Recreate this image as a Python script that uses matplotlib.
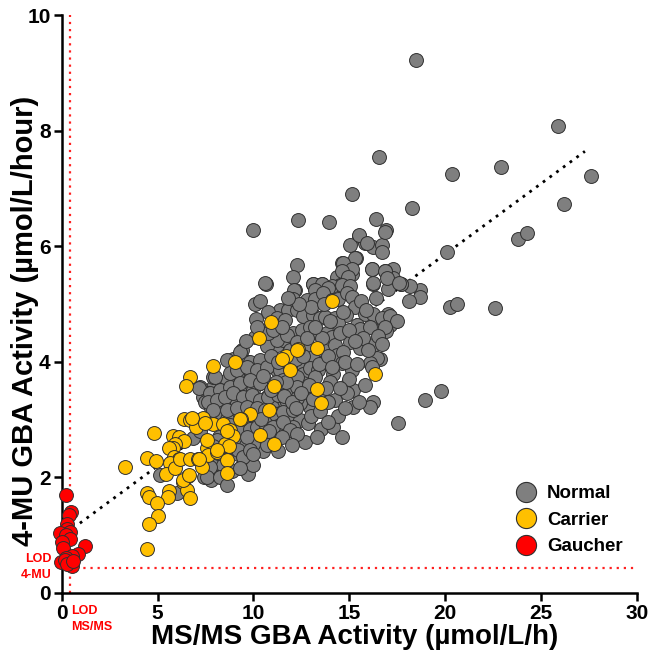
import matplotlib
matplotlib.use("Agg")
import matplotlib.pyplot as plt
from matplotlib.lines import Line2D

plt.rcParams['font.family'] = ['Liberation Sans', 'DejaVu Sans']
plt.rcParams['font.weight'] = 'bold'

# ---------------- data ----------------
normal_x = [
    18.5, 25.9, 16.57, 20.36, 22.9, 27.6, 15.14, 18.3, 26.2, 16.4, 16.9, 23.8, 24.26, 20.1,
    20.26, 20.6, 22.6, 18.95, 19.8, 17.56,
    18.7, 18.7, 18.1, 18.17, 17.7, 17.3, 16.86, 17.27, 17.04, 17.04, 17.44, 16.78, 17.13, 16.9, 16.6,
    9.96, 12.34, 13.93, 15.52, 15.04, 15.82, 16.26, 16.72, 16.72, 15.35, 12.26, 14.64, 15.04, 16.2,
    12.05, 14.35, 15.13, 10.66, 13.12, 13.6, 16.26, 17.7, 14.52, 14.95, 12.17, 13.3, 14.08,
    15.53, 15.91, 16.87, 15.3, 14.66, 15.13, 14.6, 16.17, 16.87, 10.6, 14.95, 16.26, 16.95, 17.6,
    12.12, 13.13, 13.56, 13.21, 13.91, 14.6, 15.04, 10.08, 10.34, 11.39, 10.78, 11.82, 12.26, 12.05,
    12.78, 13.21, 13.65, 14.08, 14.43, 14.87, 15.13, 15.3, 14.83, 15.82, 16.26, 16.69, 17.13, 17.47,
    16.87, 10.14, 11.21, 11.65, 12.6, 13.13, 13.47, 13.73, 14.26, 14.43, 15.39, 15.56, 16.08,
    10.08, 10.69, 11.39, 11.74, 12.08, 12.52, 12.95, 13.3, 13.82, 14.08, 15.04, 15.56, 16.26, 16.43,
    16.08, 9.39, 8.95, 9.74, 10.78, 11.21, 11.56, 11.91, 12.43, 12.87, 13.13, 13.65, 14.26, 14.34,
    14.69, 14.6, 15.13, 14.17, 13.73, 13.99, 14.95, 15.21, 14.26, 15.21, 16.26, 16.08,
    9.82, 10.17, 10.52, 11.21, 11.56, 12.08, 12.34, 12.6, 12.95, 13.39, 13.21, 12.6, 12.08, 11.74,
    10.34, 9.65, 9.13, 8.61, 8.26, 7.91, 9.04, 9.48, 9.99, 10.69, 11.39, 11.91, 12.43, 12.87, 13.3,
    13.65, 12.95, 12.43, 11.91, 11.39, 10.95, 10.52, 9.99, 9.48, 8.95, 8.43, 7.74, 7.39,
    11.39, 11.91, 12.43, 12.08, 11.65, 11.13, 10.6, 10.08, 9.56, 9.13, 9.65, 10.17, 10.69, 11.21,
    13.51, 12.87, 14.17, 14.6,
    9.3, 8.26, 7.74, 7.56, 5.13, 6.0, 6.87, 7.21, 7.91, 7.22, 7.65,
    7.5, 7.8, 8.0, 8.3, 8.6, 8.8, 9.0, 9.3, 9.6, 8.2, 8.5, 8.8, 9.2, 9.5, 9.9, 10.2, 10.5, 7.9, 8.1,
    8.4, 8.9, 9.7, 10.0, 7.4, 7.8, 8.3,
    9.3, 8.61, 9.82, 10.34, 10.69, 11.21, 10.78, 11.74, 12.26, 7.99, 7.18, 8.78, 9.13, 9.65, 10.17,
    10.69, 11.39, 11.91, 12.26, 7.74, 8.26, 8.78, 9.3, 9.82, 10.34, 11.56, 11.91, 12.26, 7.65, 8.08,
    8.52, 8.95, 9.47, 9.91, 10.34, 10.78, 11.3, 11.74, 12.26, 7.91, 8.61, 9.13, 9.65, 10.17, 10.6,
    11.04, 11.56, 12.08, 9.3, 9.82, 10.17, 10.6, 11.04, 11.56, 11.91, 10.0, 9.65, 8.08, 7.91, 8.17,
    9.21, 9.47, 9.82, 7.74, 7.56, 8.26, 9.3, 8.61,
    10.9, 11.3, 11.7, 12.2, 12.6, 12.9, 13.4, 13.6, 13.9, 14.1, 14.5, 14.8, 15.0, 15.4, 15.7, 16.0,
    16.5, 10.5, 10.9, 11.2, 11.6, 12.0, 12.5, 13.0, 13.5, 13.9, 14.4, 14.8, 12.7, 13.3, 13.9, 10.4,
    10.8, 11.5, 12.3, 12.0, 11.3, 10.7, 10.0, 9.6, 10.2, 11.0, 11.5, 12.8, 13.2, 14.0, 14.7, 13.0,
    13.7, 12.4, 11.8, 15.6, 15.9, 16.4, 15.0, 15.3, 16.7, 16.2, 15.8, 15.5, 14.9, 14.5, 13.8, 13.1,
    12.2,
]
normal_y = [
    9.22, 8.08, 7.54, 7.25, 7.36, 7.22, 6.9, 6.66, 6.72, 6.46, 6.27, 6.12, 6.22, 5.9,
    4.94, 4.99, 4.92, 3.33, 3.49, 2.93,
    5.23, 5.12, 5.05, 5.31, 5.35, 5.61, 5.56, 5.44, 5.26, 4.83, 4.71, 4.7, 4.63, 4.52, 4.04,
    6.28, 6.45, 6.42, 6.17, 6.02, 6.06, 5.99, 6.02, 5.9, 5.8, 5.67, 5.7, 5.6, 5.61,
    5.47, 5.47, 5.51, 5.35, 5.34, 5.34, 5.35, 5.34, 5.32, 5.3, 5.24, 5.24, 5.3,
    6.19, 6.06, 6.25, 5.8, 5.7, 5.6, 5.56, 5.61, 5.56, 5.36, 5.47, 5.36, 5.44, 5.36,
    5.24, 5.35, 5.35, 5.24, 5.27, 5.32, 5.3, 5.0, 5.04, 4.89, 4.86, 4.89, 4.9, 5.09,
    5.06, 5.09, 5.18, 5.06, 5.09, 5.18, 5.12, 4.94, 4.81, 4.83, 4.83, 4.75, 4.78, 4.71,
    4.6, 4.73, 4.75, 4.72, 4.79, 4.81, 4.75, 4.77, 4.75, 4.66, 4.63, 4.57, 4.6,
    4.43, 4.55, 4.55, 4.43, 4.49, 4.55, 4.6, 4.49, 4.49, 4.43, 4.34, 4.23, 4.29, 4.06,
    3.97, 4.2, 4.05, 3.99, 4.26, 4.29, 4.37, 4.2, 4.29, 4.26, 4.08, 4.2, 4.29, 4.11,
    4.17, 3.97, 3.85, 3.79, 3.97, 3.65, 3.62, 3.51, 3.33, 3.22, 3.3, 3.22,
    3.85, 3.74, 3.91, 3.85, 3.74, 3.85, 3.97, 3.79, 3.88, 3.85, 3.74, 3.62, 3.62, 3.56,
    3.62, 3.65, 3.79, 3.68, 3.51, 3.56, 3.45, 3.39, 3.51, 3.39, 3.45, 3.42, 3.51, 3.39, 3.51,
    3.33, 3.22, 3.28, 3.25, 3.28, 3.22, 3.28, 3.28, 3.22, 3.25, 3.28, 3.33, 3.39,
    3.1, 3.05, 2.99, 2.87, 2.81, 2.87, 2.93, 2.99, 2.99, 3.05, 2.81, 2.78, 2.7, 2.76,
    2.84, 2.93, 2.87, 2.69,
    2.15, 2.01, 2.06, 2.24, 2.03, 1.72, 2.67, 2.8, 3.74, 3.56, 3.45,
    3.3, 3.2, 3.0, 3.1, 3.0, 2.9, 2.75, 2.65, 2.55, 2.7, 2.6, 2.45, 2.4, 2.3, 2.45, 2.55, 2.45, 2.55, 2.35,
    2.2, 2.1, 2.05, 2.2, 2.0, 1.95, 2.0,
    4.17, 4.03, 4.0, 4.03, 4.26, 4.37, 4.49, 4.46, 4.34, 3.74, 3.55, 3.8, 3.85, 3.91, 3.85,
    3.91, 3.85, 3.91, 3.74, 3.45, 3.51, 3.56, 3.62, 3.68, 3.62, 3.68, 3.51, 3.56, 3.3, 3.33,
    3.39, 3.45, 3.39, 3.42, 3.33, 3.39, 3.42, 3.3, 3.36, 3.16, 3.16, 3.19, 3.22, 3.19, 3.16,
    3.1, 3.13, 3.16, 2.81, 2.84, 2.87, 2.93, 2.87, 2.96, 2.81, 2.58, 2.7, 2.64, 2.53, 2.41,
    2.47, 2.35, 2.47, 2.18, 2.0, 2.0, 2.15, 1.86,
    4.1, 4.0, 3.65, 4.05, 4.1, 3.6, 3.95, 4.4, 4.1, 3.9, 4.5, 4.0, 3.7, 3.95, 4.4, 4.2,
    4.45, 3.75, 3.5, 3.65, 3.4, 3.3, 3.45, 3.05, 3.15, 3.3, 3.05, 3.2, 2.6, 2.7, 2.95, 3.0,
    2.8, 2.7, 2.75, 2.55, 2.45, 2.55, 2.4, 4.35, 4.6, 4.55, 4.6, 4.4, 4.6, 4.7, 4.85, 4.95,
    5.0, 5.0, 5.1, 5.05, 4.9, 5.1, 4.55, 4.35, 4.3, 3.9, 3.6, 3.3, 3.45, 3.55, 3.55, 3.35,
    3.2,
]

carrier_x = [
    10.9, 10.31, 11.7, 11.48, 12.34, 13.34, 16.34, 11.08, 13.3, 13.51, 14.1, 11.91, 7.87, 9.04,
    9.82, 9.34, 10.83, 10.34, 11.08,
    6.69, 6.49, 6.4, 6.69, 7.04, 7.39, 7.01, 7.91, 8.43, 8.78, 8.92, 4.82, 5.82, 6.14, 6.38,
    5.91, 5.82, 5.6, 5.86, 6.14, 4.43, 4.92, 5.65, 5.44, 5.91, 6.17, 6.69, 7.13, 7.56, 7.65,
    8.09, 8.52, 8.75, 8.61, 8.64, 7.3, 3.3, 6.35, 6.61, 6.52, 6.69, 5.62, 5.56, 4.43, 4.57,
    4.95, 5.04, 4.57, 4.47, 12.26, 9.3, 6.78, 7.48, 8.64, 7.56, 8.08, 6.35, 6.66, 7.18,
]
carrier_y = [
    4.69, 4.4, 4.09, 4.04, 4.21, 4.23, 3.78, 3.58, 3.52, 3.29, 5.05, 3.85, 3.92, 4.0,
    3.09, 3.0, 3.16, 2.72, 2.58,
    3.74, 3.58, 3.0, 2.99, 2.99, 3.02, 2.87, 2.91, 2.91, 2.81, 2.71, 2.77, 2.71, 2.7, 2.63,
    2.58, 2.5, 2.51, 2.35, 2.32, 2.33, 2.27, 2.24, 2.06, 2.15, 2.32, 2.31, 2.32, 2.5, 2.38,
    2.44, 2.58, 2.54, 2.29, 2.07, 2.18, 2.17, 1.92, 2.02, 1.77, 1.63, 1.75, 1.66, 1.72, 1.66,
    1.55, 1.32, 1.19, 0.76, 4.2, 3.0, 3.03, 2.93, 2.8, 2.64, 2.47, 1.95, 2.03, 2.32,
]

gaucher_x = [0.22, 0.47, 0.38, 0.26, 0.3, -0.08, 0.43, 0.2, 0.43, 0.0, 1.2, 0.08, 0.86, 0.52,
             0.22, -0.06, 0.17, 0.52, 0.3, 0.6]
gaucher_y = [1.68, 1.40, 1.35, 1.18, 1.1, 1.03, 1.05, 0.99, 0.92, 0.88, 0.8, 0.77, 0.67, 0.63,
             0.59, 0.53, 0.56, 0.46, 0.5, 0.55]

fit_x = [0.95, 27.3]
fit_y = [1.2, 7.64]

lod_msms = 0.45
lod_4mu = 0.42

x_ticks = [0, 5, 10, 15, 20, 25, 30]
y_ticks = [0, 2, 4, 6, 8, 10]
series_labels = ['Normal', 'Carrier', 'Gaucher']
series_colors = ['#7f7f7f', '#ffc000', '#ff0000']

# ---------------- figure ----------------
fig = plt.figure(figsize=(6.54, 6.59), dpi=100)
ax = fig.add_axes([0.0943, 0.1009, 0.8792, 0.8763])

ax.plot([0, 30], [lod_4mu, lod_4mu], color='#ff2020', lw=1.6, ls=(0, (1, 2.2)), zorder=1)
ax.plot([lod_msms, lod_msms], [0, 10], color='#ff2020', lw=1.6, ls=(0, (1, 2.2)), zorder=1)
ax.plot(fit_x, fit_y, color='black', lw=2.0, ls=(0, (1, 2)), zorder=1.5)

ms = 100
ax.scatter(normal_x, normal_y, s=ms, c=series_colors[0], edgecolors='#303030', linewidths=0.7,
           zorder=2, clip_on=False)
ax.scatter(carrier_x, carrier_y, s=ms, c=series_colors[1], edgecolors='#303030', linewidths=0.7,
           zorder=3, clip_on=False)
ax.scatter(gaucher_x, gaucher_y, s=ms, c=series_colors[2], edgecolors='#303030', linewidths=0.7,
           zorder=4, clip_on=False)

ax.set_xlim(0, 30)
ax.set_ylim(0, 10)
ax.set_xticks(x_ticks)
ax.set_yticks(y_ticks)
ax.set_xticklabels([str(t) for t in x_ticks], fontsize=15, fontweight='bold')
ax.set_yticklabels([str(t) for t in y_ticks], fontsize=15, fontweight='bold')
for s in ['top', 'right']:
    ax.spines[s].set_visible(False)
for s in ['left', 'bottom']:
    ax.spines[s].set_linewidth(1.8)
ax.tick_params(direction='out', length=6, width=1.8, pad=2)

ax.set_xlabel('MS/MS GBA Activity (µmol/L/h)', fontsize=20, fontweight='bold')
ax.set_ylabel('4-MU GBA Activity (µmol/L/hour)', fontsize=21, fontweight='bold')
ax.xaxis.set_label_coords(0.51, -0.055)
ax.yaxis.set_label_coords(-0.04, 0.47)

ax.text(-0.55, lod_4mu + 0.02, 'LOD\n4-MU', color='#ff0000', fontsize=9, fontweight='bold',
        ha='right', va='center', linespacing=1.5)
ax.text(lod_msms + 0.05, -0.22, 'LOD\nMS/MS', color='#ff0000', fontsize=9, fontweight='bold',
        ha='left', va='top', linespacing=1.4, clip_on=False)

handles = [Line2D([], [], marker='o', ls='none', markersize=14.5, markerfacecolor=c,
                  markeredgecolor='#303030', markeredgewidth=0.8) for c in series_colors]
ax.legend(handles, series_labels, loc='lower left', bbox_to_anchor=(0.772, 0.048),
          frameon=False, prop={'size': 13.5, 'weight': 'bold'}, handletextpad=0.5,
          labelspacing=0.5, borderpad=0, handlelength=1.2)

fig.savefig('out.png', dpi=100)
